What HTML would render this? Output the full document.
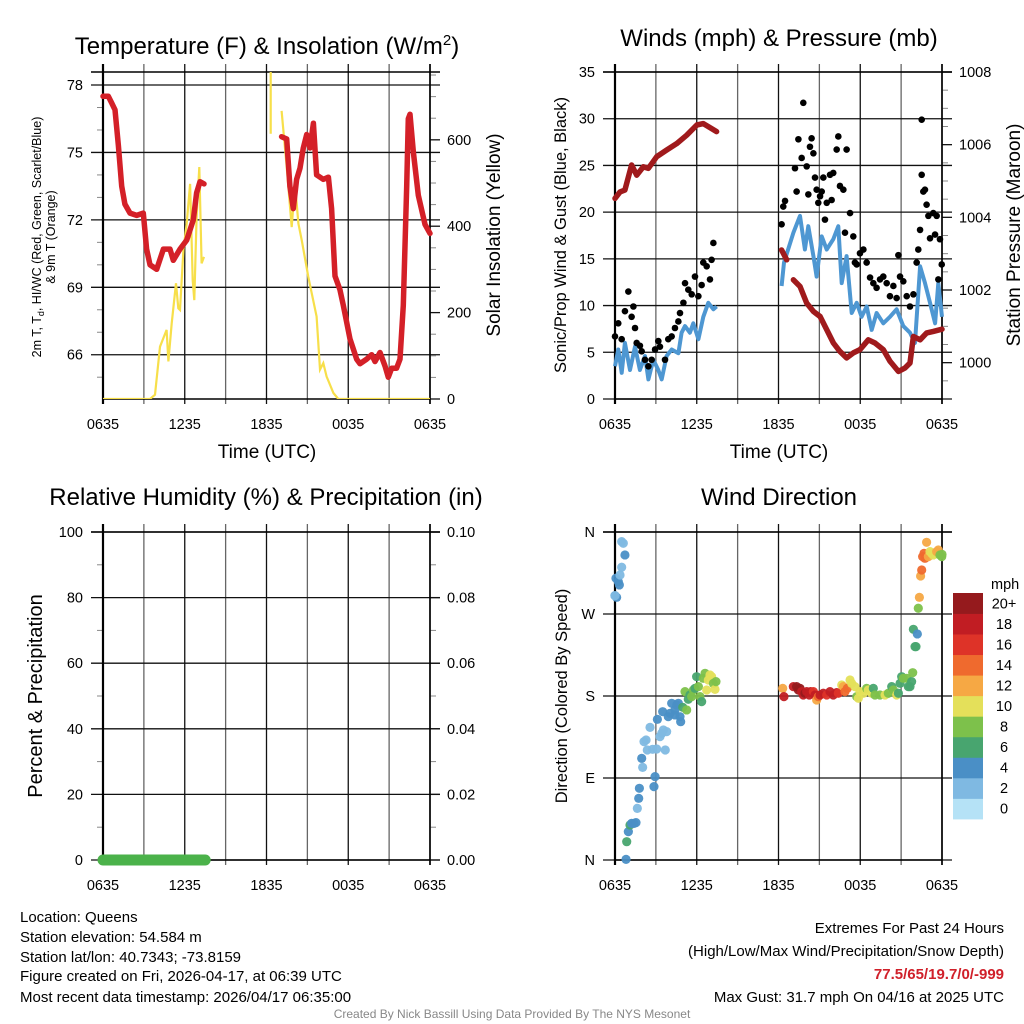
<!DOCTYPE html>
<html><head><meta charset="utf-8"><style>
html,body{margin:0;padding:0;background:#fff;}
svg{display:block;font-family:"Liberation Sans",sans-serif;}
</style></head><body>
<svg id="c" width="1024" height="1024" viewBox="0 0 1024 1024" xmlns="http://www.w3.org/2000/svg">
<g id="titles">
<text x="267" y="54" font-size="24" text-anchor="middle">Temperature (F) &amp; Insolation (W/m<tspan dy="-9" font-size="15">2</tspan><tspan dy="9">)</tspan></text>
<text x="779" y="46" font-size="24" text-anchor="middle">Winds (mph) &amp; Pressure (mb)</text>
<text x="266" y="505" font-size="24" text-anchor="middle">Relative Humidity (%) &amp; Precipitation (in)</text>
<text x="779" y="505" font-size="24" text-anchor="middle">Wind Direction</text>
<text x="267" y="458" font-size="19" text-anchor="middle">Time (UTC)</text>
<text x="779" y="458" font-size="19" text-anchor="middle">Time (UTC)</text>
<text transform="translate(41,237) rotate(-90)" font-size="12.5" text-anchor="middle">2m T, T<tspan dy="3" font-size="9">d</tspan><tspan dy="-3">, HI/WC (Red, Green, Scarlet/Blue)</tspan></text>
<text transform="translate(55,237) rotate(-90)" font-size="12.5" text-anchor="middle">&amp; 9m T (Orange)</text>
<text transform="translate(500,235) rotate(-90)" font-size="19" text-anchor="middle">Solar Insolation (Yellow)</text>
<text transform="translate(566,235) rotate(-90)" font-size="16.5" text-anchor="middle">Sonic/Prop Wind &amp; Gust (Blue, Black)</text>
<text transform="translate(1020,235) rotate(-90)" font-size="19" text-anchor="middle">Station Pressure (Maroon)</text>
<text transform="translate(42,696) rotate(-90)" font-size="20" text-anchor="middle">Percent &amp; Precipitation</text>
<text transform="translate(567,696) rotate(-90)" font-size="16.5" text-anchor="middle">Direction (Colored By Speed)</text>
</g>
<g id="footer" font-size="15">
<text x="20" y="922">Location: Queens</text>
<text x="20" y="942">Station elevation: 54.584 m</text>
<text x="20" y="962">Station lat/lon: 40.7343; -73.8159</text>
<text x="20" y="981">Figure created on Fri, 2026-04-17, at 06:39 UTC</text>
<text x="20" y="1002">Most recent data timestamp: 2026/04/17 06:35:00</text>
<text x="1004" y="933" text-anchor="end">Extremes For Past 24 Hours</text>
<text x="1004" y="956" text-anchor="end">(High/Low/Max Wind/Precipitation/Snow Depth)</text>
<text x="1004" y="979" text-anchor="end" fill="#d0202a" font-weight="bold">77.5/65/19.7/0/-999</text>
<text x="1004" y="1002" text-anchor="end">Max Gust: 31.7 mph On 04/16 at 2025 UTC</text>
<text x="512" y="1018" text-anchor="middle" font-size="12" fill="#888">Created By Nick Bassill Using Data Provided By The NYS Mesonet</text>
</g>
</svg>
<script>
// ---- Temperature panel data (hours since 0635 UTC) ----
const tempTimes=[0,0.39,0.64,0.88,1.13,1.37,1.61,1.98,2.47,2.96,3.2,3.45,3.94,4.43,4.92,5.16,5.65,6.14,6.63,6.87,7.12,7.41,null,13.11,13.48,13.72,13.97,14.21,14.46,14.7,14.95,15.19,15.44,15.68,16.17,16.54,16.78,17.03,17.39,17.64,18.13,18.62,18.86,19.35,19.72,19.96,20.33,20.7,20.94,21.19,21.55,21.8,22.04,22.29,22.41,22.53,22.78,23.14,23.63,24];
const tempValues=[77.5,77.5,77.2,76.9,75.3,73.5,72.7,72.3,72.2,72.3,70.7,70.0,69.8,70.7,70.7,70.2,70.7,71.1,72.0,73.2,73.7,73.6,null,75.7,75.6,73.5,72.5,73.8,74.3,75.2,75.8,75.2,76.3,74.0,73.8,73.9,72.5,69.5,68.9,68.2,66.7,65.8,65.6,65.8,66.0,65.7,66.1,65.5,65.0,65.4,65.4,65.8,68.2,73.5,76.5,76.7,75.0,73.1,71.8,71.4];
const solarTimes=[0,3.45,3.82,4.18,4.67,4.8,5.04,5.36,5.53,5.65,5.9,6.14,6.39,6.58,6.7,6.87,7.07,7.24,7.41,null,12.31,12.31,null,13.11,13.48,13.85,14.09,14.34,14.58,15.07,15.68,15.93,16.17,16.41,16.91,17.27,24];
const solarValues=[0,0,10,121,160,87,175,268,210,206,345,406,498,275,229,421,537,314,329,null,614,760,null,667,537,398,498,406,368,283,191,68,83,52,14,0,0];
// ---- Winds panel data ----
const presTimes=[0,0.37,0.73,1.22,1.59,2.08,2.45,3.06,3.79,4.53,5.26,6.0,6.48,6.97,7.46,null,12.23,12.6,null,13.09,13.58,14.07,14.56,15.05,15.54,16.03,16.51,17.0,17.49,17.98,18.59,19.08,19.69,20.18,20.8,21.28,21.65,21.9,22.39,22.88,23.36,24];
const presValues=[1004.52,1004.7,1004.75,1005.44,1005.16,1005.39,1005.35,1005.67,1005.85,1006.03,1006.26,1006.54,1006.58,1006.47,1006.36,null,1003.1,1002.83,null,1002.28,1002.1,1001.64,1001.41,1001.27,1000.91,1000.54,1000.31,1000.13,1000.27,1000.36,1000.63,1000.54,1000.36,1000.04,999.76,999.85,999.99,1000.72,1000.63,1000.82,1000.86,1000.92];
const windTimes=[0,0.24,0.49,0.73,1.1,1.47,1.83,2.2,2.45,2.81,3.18,3.43,3.79,4.16,4.65,4.89,5.14,5.5,5.75,6.12,6.48,6.85,7.22,7.46,null,12.23,12.4,13.09,13.58,13.94,14.19,14.56,14.8,15.17,15.54,16.02,16.39,16.64,17.0,17.37,17.74,18.1,18.47,18.84,19.2,19.69,20.18,20.67,21.16,21.65,22.02,22.39,22.75,23.12,23.49,23.73,24];
const windValues=[3.5,5.3,2.8,6,3.1,5.6,3.1,4.6,2.1,4.2,3.1,2.1,4.6,5.3,4.9,7.1,7.8,7.1,8.1,6.4,8.8,10.3,9.6,9.9,null,12.1,14.6,17.8,19.6,16,18.5,15.3,13.1,17.4,16,17.1,18.5,12.4,15.3,9.2,10.3,8.8,9.9,7.4,9.2,8.1,8.8,9.6,7.8,7.1,6,14.2,12.4,10.3,8.1,12.4,8.8];
const gustTimes=[0,.24,.49,.73,.98,1.22,1.35,1.47,1.59,1.83,1.96,2.2,2.45,2.69,2.94,3.18,3.3,3.67,3.91,4.16,4.4,4.65,4.77,5.02,5.14,5.38,5.63,5.87,6.12,6.36,6.48,6.73,6.97,7.09,7.22,12.23,12.35,12.48,13.21,13.33,13.46,13.7,13.82,14.07,14.19,14.31,14.43,14.56,14.68,14.8,14.92,15.05,15.17,15.29,15.41,15.54,15.78,15.9,16.02,16.27,16.39,16.51,16.76,16.88,17.0,17.25,17.49,17.61,17.74,17.98,18.23,18.47,18.72,18.96,19.2,19.45,19.69,19.94,20.18,20.43,20.67,20.8,20.92,21.16,21.41,21.65,21.9,22.14,22.26,22.39,22.51,22.51,22.63,22.75,22.87,23.0,23.12,23.36,23.49,23.61,23.73,23.85,23.98];
const gustValues=[6.7,8.1,6.4,9.4,11.5,8.8,9.9,7.6,6.0,5.7,5.1,4.2,3.5,4.2,5.3,6.2,5.6,4.2,6.4,6.7,7.6,8.3,9.2,10.3,12.4,11.7,11.2,13.1,11.0,12.2,14.6,14.2,12.8,14.9,16.7,18.7,20.6,21.2,24.7,22.2,27.8,25.8,31.7,24.9,21.9,27.0,27.9,26.3,23.7,22.4,21.0,21.7,22.2,23.7,19.2,21.0,24.0,21.3,24.2,26.7,28.1,22.8,22.4,17.8,26.7,19.9,17.4,14.6,14.4,15.6,16.0,14.6,13.0,12.4,11.9,12.8,13.1,12.4,11.0,12.1,10.8,15.4,13.1,12.6,11.0,9.9,11.2,14.6,16.0,18.1,24.0,29.9,22.2,22.4,20.8,19.6,17.2,19.9,17.6,19.6,12.8,17.1,14.4];
// ---- Humidity / precipitation ----
const rhTimes=[0,7.5];
const rhValues=[0,0];
// ---- Wind direction ----
const dirTimes=[0,.12,0,.07,.24,.32,.37,.49,.73,.49,.61,.81,.86,.98,1.10,1.22,1.39,1.54,1.64,1.74,1.79,2.03,1.96,2.13,2.28,2.37,2.57,2.76,2.94,2.86,3.06,3.11,3.30,3.43,3.55,3.69,3.79,3.91,3.50,4.04,4.16,4.40,4.53,4.65,4.77,4.82,4.40,4.97,5.14,5.26,5.38,5.50,5.63,5.75,5.87,5.99,6.12,6.24,6.36,6.48,6.61,6.73,6.85,6.97,7.09,7.22,7.34,7.41,12.31,12.40,13.09,13.33,13.46,13.58,13.70,13.82,13.94,14.07,14.26,14.36,14.56,14.68,14.80,14.92,15.05,15.29,15.54,15.78,16.02,16.27,16.39,16.64,16.76,16.88,17.05,17.25,17.37,17.61,17.74,17.86,17.98,18.23,18.47,18.59,18.84,18.96,19.08,19.45,19.82,20.06,20.31,20.43,20.67,20.80,20.92,21.04,21.16,21.41,21.53,21.65,21.77,21.85,22.02,22.09,21.90,22.19,22.26,22.34,22.43,22.51,22.58,22.68,22.75,22.87,23.00,23.12,23.24,23.36,23.49,23.61,23.73,23.85,23.98,24.0];
const dirValues=[290.2,288.3,290,309.2,305.5,301.9,312.8,321.3,334.8,349.4,347.6,0.7,20.1,31.1,38.4,40.2,40.2,41.0,56.7,67.7,78.7,101.7,111.6,129.9,131.7,120.7,145.6,121.5,91.5,80.5,121.8,154.4,135.4,139.0,142.7,120.7,140.9,157.3,162.8,161.0,172.0,164.7,170.1,172.0,157.3,151.8,159.2,167.6,184.8,164.7,176.4,181.1,179.3,186.6,188.4,201.2,190.3,179.3,173.8,199.4,204.9,186.6,197.6,203.1,201.2,193.9,187.3,195.8,188.4,179.3,190.3,190.3,186.6,188.4,184.8,181.1,183.0,184.8,181.1,184.8,184.8,181.1,175.6,179.3,181.1,183.0,181.1,184.8,181.1,183.7,183.0,192.1,190.3,184.8,188.4,197.6,193.9,190.3,179.3,177.5,184.8,183.0,188.4,186.6,183.0,188.4,181.1,181.1,181.1,183.0,190.3,186.6,181.1,183.0,193.9,201.2,199.4,199.4,190.3,190.3,195.8,205.6,234.2,234.2,253.2,248.1,276.3,288.3,311.7,318.3,333.0,336.6,331.1,348.7,333.0,338.5,336.6,334.8,336.6,338.5,340.3,334.8,333.0,335.5];
const dirSpeeds=[4,4,2,4,4,4,2,2,4,2,2,4,6,4,6,4,4,4,2,4,4,2,4,2,2,2,2,2,4,4,2,4,2,2,2,2,2,4,4,4,4,4,4,4,4,4,4,6,8,8,6,6,8,8,6,6,8,8,6,8,8,10,10,10,10,8,10,8,12,18,18,20,20,20,18,18,20,18,18,18,16,18,12,14,18,18,16,18,18,18,16,10,12,14,14,10,10,10,8,10,10,10,8,10,10,6,8,8,10,8,6,8,10,6,6,6,8,8,6,6,6,8,6,6,6,4,8,12,12,14,14,14,14,12,12,10,10,10,10,12,12,8,8,8];
const legendLabels=["0","2","4","6","8","10","12","14","16","18","20+"];
const legendColors=["#b5e2f6","#7fb9e2","#4a8fc6","#48a56f","#7dc14b","#e4e05a","#f6a844","#ef6a2e","#de3328","#c11d23","#951a1d"];
const xTickLabels=["0635","1235","1835","0035","0635"];

const NS="http://www.w3.org/2000/svg", svg=document.getElementById('c');
function el(tag,attrs,parent){const e=document.createElementNS(NS,tag);for(const k in attrs)e.setAttribute(k,attrs[k]);(parent||svg).appendChild(e);return e;}
function scale(d0,d1,r0,r1){return v=>r0+(v-d0)/(d1-d0)*(r1-r0);}
function pathFrom(ts,vs,sx,sy){let d="",pen=false;for(let i=0;i<ts.length;i++){if(ts[i]===null||vs[i]===null){pen=false;continue;}d+=(pen?"L":"M")+sx(ts[i]).toFixed(1)+","+sy(vs[i]).toFixed(1);pen=true;}return d;}

function frame(name,L,R,T,B,yTicks,yLab,ySc,rTicks,rLab,rSc,minorL,minorR){
  const g=el('g',{});
  
  
  const sx=scale(0,24,L,R);
  for(let h=0;h<=24;h+=3){const x=sx(h);
    const ln=el('line',{x1:x,x2:x,y1:T-8,y2:B+5,stroke:(h%6===3)?'#666':'#111','stroke-width':1.3},g);
    
    }
  xTickLabels.forEach((t,i)=>{const x=sx(i*6);
    const tx=el('text',{x:x,y:B+30,'font-size':14.5,'text-anchor':'middle'},g);tx.textContent=t;
    
    });
  yTicks.forEach((v,i)=>{const y=ySc(v);
    const ln=el('line',{x1:L-12,x2:R+10,y1:y,y2:y,stroke:'#111','stroke-width':1.3},g);
    
    
    const tx=el('text',{x:L-20,y:y+5,'font-size':14.5,'text-anchor':'end'},g);tx.textContent=yLab[i];
    
    });
  (minorL||[]).forEach(v=>{const y=ySc(v);el('line',{x1:L-6,x2:L,y1:y,y2:y,stroke:'#888','stroke-width':1},g);});
  if(rTicks){rTicks.forEach((v,i)=>{const y=rSc(v);
    el('line',{x1:R,x2:R+10,y1:y,y2:y,stroke:'#111','stroke-width':1.3},g);
    const tx=el('text',{x:R+17,y:y+5,'font-size':14.5},g);tx.textContent=rLab[i];
    
    });
    (minorR||[]).forEach(v=>{const y=rSc(v);el('line',{x1:R,x2:R+6,y1:y,y2:y,stroke:'#888','stroke-width':1},g);});}
  el('line',{x1:L,x2:L,y1:T-8,y2:B+5,stroke:'#000','stroke-width':2.2},g);
  el('line',{x1:R,x2:R,y1:T-8,y2:B+5,stroke:'#000','stroke-width':1.6},g);
  el('line',{x1:L-12,x2:R+10,y1:T,y2:T,stroke:'#000','stroke-width':1.5},g);
  el('line',{x1:L,x2:R,y1:B,y2:B,stroke:'#000','stroke-width':1.5},g);
  return sx;
}

// Panel 1
{const L=103,R=430,T=72,B=399;
 const sy=scale(64.03,78.58,B,T), sr=scale(0,757,B,T);
 const sx=frame('temperature',L,R,T,B,[66,69,72,75,78],["66","69","72","75","78"],sy,[0,200,400,600],["0","200","400","600"],sr,[65,67,68,70,71,73,74,76,77],[50,100,150,250,300,350,450,500,550,650,700,750]);
 const cp=el('clipPath',{id:'c1'});el('rect',{x:L,y:T,width:R-L,height:B-T},cp);
 const s=el('path',{d:pathFrom(solarTimes,solarValues,sx,sr),fill:'none',stroke:'#f7df4a','stroke-width':2.2,'clip-path':'url(#c1)'});
 
 
 const t=el('path',{d:pathFrom(tempTimes,tempValues,sx,sy),fill:'none',stroke:'#d42028','stroke-width':5.5,'stroke-linejoin':'round','stroke-linecap':'round'});
 
 }
// Panel 2
{const L=615,R=942,T=72,B=399;
 const sy=scale(0,35,B,T), sr=scale(999.0,1008,B,T);
 const sx=frame('winds',L,R,T,B,[0,5,10,15,20,25,30,35],["0","5","10","15","20","25","30","35"],sy,[1000,1002,1004,1006,1008],["1000","1002","1004","1006","1008"],sr,[],[999.5,1000.5,1001,1001.5,1002.5,1003,1003.5,1004.5,1005,1005.5,1006.5,1007,1007.5]);
 const w=el('path',{d:pathFrom(windTimes,windValues,sx,sy),fill:'none',stroke:'#4e97d2','stroke-width':4,'stroke-linejoin':'round'});
 
 
 gustTimes.forEach((tt,i)=>{const c=el('circle',{cx:sx(tt),cy:sy(gustValues[i]),r:3.3,fill:'#000'});
   
   });
 const p=el('path',{d:pathFrom(presTimes,presValues,sx,sr),fill:'none',stroke:'#a01a1c','stroke-width':5.5,'stroke-linejoin':'round','stroke-linecap':'round'});
 
 }
// Panel 3
{const L=103,R=430,T=532,B=860;
 const sy=scale(0,100,B,T), sr=scale(0,0.1,B,T);
 const sx=frame('humidity',L,R,T,B,[0,20,40,60,80,100],["0","20","40","60","80","100"],sy,[0,0.02,0.04,0.06,0.08,0.1],["0.00","0.02","0.04","0.06","0.08","0.10"],sr,[10,30,50,70,90],[0.01,0.03,0.05,0.07,0.09]);
 const r=el('path',{d:pathFrom(rhTimes,rhValues,sx,sy),fill:'none',stroke:'#4bb24a','stroke-width':11,'stroke-linecap':'round'});
 
 }
// Panel 4
{const L=615,R=942,T=532,B=860;
 const sy=scale(0,360,B,T);
 const sx=frame('wind-direction',L,R,T,B,[0,90,180,270,360],["N","E","S","W","N"],sy,null,null,null,[],[]);
 dirTimes.forEach((tt,i)=>{const c=el('circle',{cx:sx(tt),cy:sy(dirValues[i]),r:4.6,fill:legendColors[Math.min(10,Math.round(dirSpeeds[i]/2))],'fill-opacity':0.95});
   
   });
 const lg=el('g',{});
 
 
 const t0=el('text',{x:991,y:589,'font-size':14.5},lg);t0.textContent='mph';
 const bh=(819-593)/11;
 legendLabels.forEach((lab,i)=>{const y=819-(i+1)*bh;
   const rc=el('rect',{x:953,y:y,width:30,height:bh+0.4,fill:legendColors[i]},lg);
   
   
   const tx=el('text',{x:1004,y:y+bh/2+5,'font-size':14.5,'text-anchor':'middle'},lg);tx.textContent=lab;
   
   });}
</script>
</body></html>
